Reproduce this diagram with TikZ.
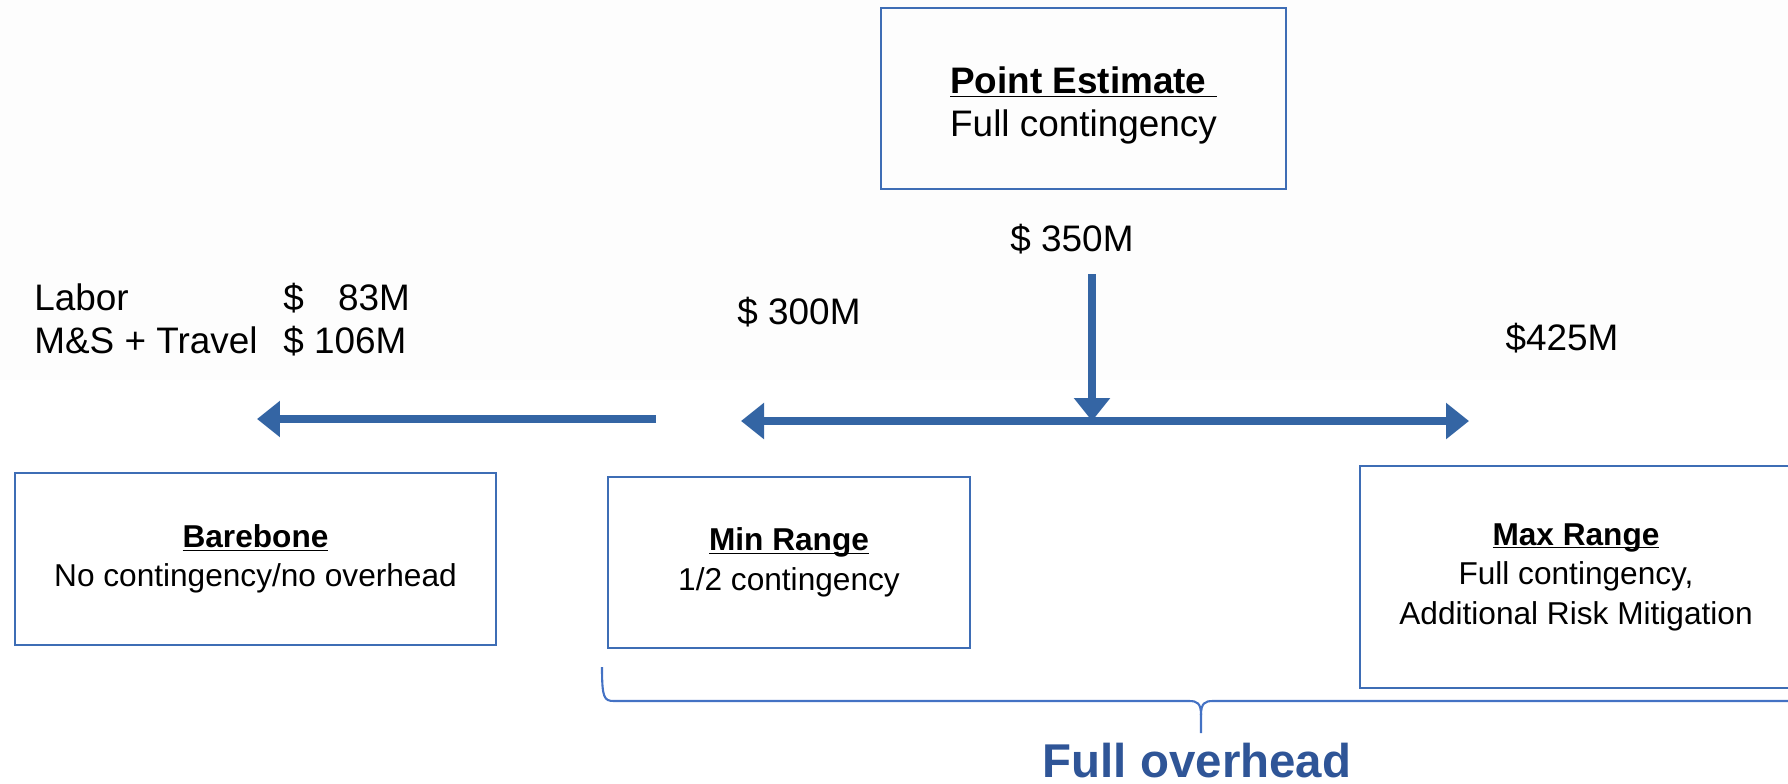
\documentclass[tikz,border=0pt]{standalone}
\usepackage{fontspec}
\setmainfont{Liberation Sans}
\usetikzlibrary{arrows.meta}
\definecolor{boxblue}{HTML}{3E6DB5}
\definecolor{arrowblue}{HTML}{3465A4}
\definecolor{braceblue}{HTML}{4472C4}
\definecolor{ohblue}{HTML}{2F5597}
\definecolor{paper}{HTML}{FDFDFD}
\newcommand{\esthead}[1]{\underline{\textbf{\raisebox{0pt}[\height][0pt]{#1}}}}
\tikzset{
  est/.style={draw=boxblue,line width=1.2pt,inner sep=0pt,align=center,font=\fontsize{18}{22.5}\selectfont},
  amt/.style={anchor=base,inner sep=0pt,font=\fontsize{21}{25}\selectfont},
  flow/.style={draw=arrowblue,line width=5pt,-{Triangle[length=0.46cm,width=0.7cm]}},
}
\begin{document}
\begin{tikzpicture}[x=0.02cm,y=-0.02cm]
\clip (0,0) rectangle (1788,784);
\fill[paper] (0,0) rectangle (1788,380);
% estimate boxes
\node[est,font=\fontsize{21}{24.5}\selectfont,minimum width=8.1cm,minimum height=3.62cm] (point) at (1083.5,98.5) {\rule{0pt}{23.5pt}\esthead{Point Estimate\ }\\Full contingency};
\node[est,minimum width=9.62cm,minimum height=3.44cm] (bare) at (255.5,559) {\esthead{Barebone}\\No contingency/no overhead};
\node[est,minimum width=7.24cm,minimum height=3.42cm] (minr) at (789,562.5) {\esthead{Min Range}\\1/2 contingency};
\node[est,minimum width=8.64cm,minimum height=4.44cm] (maxr) at (1576,577) {\esthead{Max Range}\\Full contingency,\\Additional Risk Mitigation};
% amounts
\node[amt] (v350) at (1072,251) {\$ 350M};
\node[amt] (v300) at (799,324) {\$ 300M};
\node[amt] (v425) at (1562,350) {\$425M};
\node[amt,anchor=base west] (cost) at (34,310) {\begin{tabular}[t]{@{}l@{\hspace{0.7em}}l@{}}Labor & \$\hspace{0.93em}83M\\M\&S + Travel & \$ 106M\end{tabular}};
% arrows
\coordinate (drop) at (1092,274);
\coordinate (hub) at (1092,421);
\coordinate (lowtip) at (741,421);
\coordinate (hightip) at (1469,421);
\coordinate (cutstart) at (656,419);
\coordinate (baretip) at (257,419);
\draw[flow,{Triangle[length=0.46cm,width=0.7cm]}-{Triangle[length=0.46cm,width=0.7cm]}] (lowtip) -- (hightip);
\draw[flow] (drop) -- (hub);
\draw[flow] (cutstart) -- (baretip);
% brace
\draw[braceblue,line width=1.2pt] (602,667) .. controls (602,698) and (604,701) .. (614,701) -- (1189,701) .. controls (1197,701) and (1201,703) .. (1201,715) -- (1201,733);
\draw[braceblue,line width=1.2pt] (1201,715) .. controls (1201,703) and (1205,701) .. (1213,701) -- (1800,701);
\node[anchor=base,inner sep=0pt,text=ohblue,font=\fontsize{27}{30}\selectfont\bfseries] (overhead) at (1197,777) {Full overhead};
\end{tikzpicture}
\end{document}
